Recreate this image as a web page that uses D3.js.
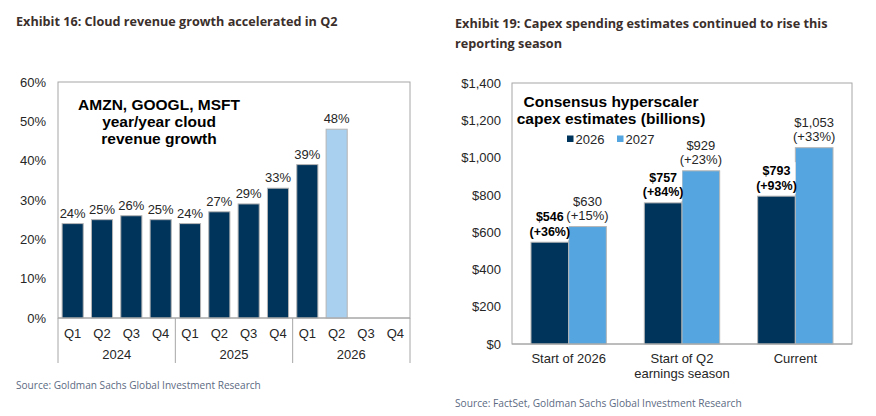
<!DOCTYPE html>
<html><head><meta charset="utf-8">
<script src="https://cdn.jsdelivr.net/npm/d3@7"></script>
<style>
body{margin:0;background:#fff;}
svg{display:block;}
</style></head>
<body>
<svg id="c" width="876" height="416"></svg>
<script>
// ---- Left chart data ----
const quarters = ["Q1","Q2","Q3","Q4","Q1","Q2","Q3","Q4","Q1","Q2","Q3","Q4"];
const years = ["2024","2025","2026"];
const cloudGrowth = [24,25,26,25,24,27,29,33,39,48,null,null];
const cloudHighlight = [false,false,false,false,false,false,false,false,false,true,false,false];
const leftTicks = [0,10,20,30,40,50,60];

// ---- Right chart data ----
const capexGroups = ["Start of 2026","Start of Q2|earnings season","Current"];
const capexSeries = ["2026","2027"];
const capex2026 = [546,757,793];
const capex2027 = [630,929,1053];
const growth2026 = ["+36%","+84%","+93%"];
const growth2027 = ["+15%","+23%","+33%"];
const rightTicks = [0,200,400,600,800,1000,1200,1400];

const DARK="#00345b", LIGHT="#a9d0ef", MID="#55a6e0", GRID="#a6a6a6";
const TITLE_C="#3b2f2c", SRC_C="#5c6a82", TXT="#262626";
const AX_FONT="'Liberation Sans', Arial, sans-serif";
const T_FONT="'Open Sans', 'Noto Sans', sans-serif";

const svg=d3.select("#c");

// ============ LEFT ============
(function(){
  const L={x0:58,x1:410,y0:82,y1:318};
  svg.append("text").attr("x",16).attr("y",26).attr("font-family",T_FONT).attr("font-weight",700)
    .attr("font-size",12.65).attr("fill",TITLE_C).text("Exhibit 16: Cloud revenue growth accelerated in Q2");
  const x=d3.scaleBand().domain(d3.range(quarters.length)).range([L.x0,L.x1]).paddingInner(0.28).paddingOuter(0.14);
  const y=d3.scaleLinear().domain([0,60]).range([L.y1,L.y0]);
  const g=svg.append("g");
  g.append("rect").attr("x",L.x0).attr("y",L.y0).attr("width",L.x1-L.x0).attr("height",L.y1-L.y0)
    .attr("fill","none").attr("stroke",GRID).attr("stroke-width",1);
  const ya=g.append("g").attr("transform",`translate(${L.x0},0)`)
    .call(d3.axisLeft(y).tickValues(leftTicks).tickFormat(d=>d+"%").tickSize(0).tickPadding(12));
  ya.select(".domain").remove();
  ya.selectAll("text").attr("font-family",AX_FONT).attr("font-size",13).attr("fill",TXT);
  const data=cloudGrowth.map((v,i)=>({i,v,h:cloudHighlight[i]})).filter(d=>d.v!=null);
  g.selectAll("rect.bar").data(data).join("rect").attr("class","bar")
    .attr("x",d=>x(d.i)).attr("width",x.bandwidth())
    .attr("y",d=>y(d.v)).attr("height",d=>y(0)-y(d.v))
    .attr("fill",d=>d.h?LIGHT:DARK).attr("stroke","#b5b5b5").attr("stroke-width",1);
  g.selectAll("text.lbl").data(data).join("text").attr("class","lbl")
    .attr("x",d=>x(d.i)+x.bandwidth()/2).attr("y",d=>y(d.v)-6)
    .attr("text-anchor","middle").attr("font-family",AX_FONT).attr("font-size",13).attr("fill",TXT)
    .text(d=>d.v+"%");
  g.append("line").attr("x1",L.x0).attr("x2",L.x1).attr("y1",L.y1).attr("y2",L.y1).attr("stroke",GRID);
  const step=x.step();
  g.selectAll("text.q").data(quarters).join("text").attr("class","q")
    .attr("x",(d,i)=>L.x0+step*(i+0.5)).attr("y",L.y1+20).attr("text-anchor","middle")
    .attr("font-family",AX_FONT).attr("font-size",13).attr("fill",TXT).text(d=>d);
  const yw=(L.x1-L.x0)/years.length;
  g.selectAll("text.yr").data(years).join("text").attr("class","yr")
    .attr("x",(d,i)=>L.x0+yw*(i+0.5)).attr("y",L.y1+41).attr("text-anchor","middle")
    .attr("font-family",AX_FONT).attr("font-size",13).attr("fill",TXT).text(d=>d);
  g.selectAll("line.div").data(d3.range(years.length+1)).join("line").attr("class","div")
    .attr("x1",i=>L.x0+yw*i).attr("x2",i=>L.x0+yw*i).attr("y1",L.y1).attr("y2",L.y1+45)
    .attr("stroke",GRID);
  const ann=["AMZN, GOOGL, MSFT","year/year cloud","revenue growth"];
  g.selectAll("text.ann").data(ann).join("text").attr("class","ann")
    .attr("x",159).attr("y",(d,i)=>110+i*17).attr("text-anchor","middle")
    .attr("font-family",AX_FONT).attr("font-weight",700).attr("font-size",15.5).attr("fill","#000").text(d=>d);
  svg.append("text").attr("x",16).attr("y",389).attr("font-family",T_FONT).attr("font-size",10.1)
    .attr("fill",SRC_C).text("Source: Goldman Sachs Global Investment Research");
})();

// ============ RIGHT ============
(function(){
  const R={x0:512,x1:852,y0:83,y1:344};
  svg.append("text").attr("x",455).attr("y",28).attr("font-family",T_FONT).attr("font-weight",700)
    .attr("font-size",12.7).attr("fill",TITLE_C).text("Exhibit 19: Capex spending estimates continued to rise this");
  svg.append("text").attr("x",455).attr("y",48).attr("font-family",T_FONT).attr("font-weight",700)
    .attr("font-size",12.7).attr("fill",TITLE_C).text("reporting season");
  const x0=d3.scaleBand().domain(d3.range(capexGroups.length)).range([R.x0,R.x1]).paddingInner(0.335).paddingOuter(0.1675);
  const x1=d3.scaleBand().domain(capexSeries).range([0,x0.bandwidth()]);
  const y=d3.scaleLinear().domain([0,1400]).range([R.y1,R.y0]);
  const g=svg.append("g");
  g.append("rect").attr("x",R.x0).attr("y",R.y0).attr("width",R.x1-R.x0).attr("height",R.y1-R.y0)
    .attr("fill","none").attr("stroke",GRID);
  const ya=g.append("g").attr("transform",`translate(${R.x0},0)`)
    .call(d3.axisLeft(y).tickValues(rightTicks).tickFormat(d=>"$"+d3.format(",")(d)).tickSize(0).tickPadding(11));
  ya.select(".domain").remove();
  ya.selectAll("text").attr("font-family",AX_FONT).attr("font-size",13).attr("fill",TXT);
  const rows=[];
  capexGroups.forEach((c,i)=>{
    rows.push({i,s:"2026",v:capex2026[i],p:growth2026[i]});
    rows.push({i,s:"2027",v:capex2027[i],p:growth2027[i]});
  });
  g.selectAll("rect.bar").data(rows).join("rect").attr("class","bar")
    .attr("x",d=>x0(d.i)+x1(d.s)).attr("width",x1.bandwidth())
    .attr("y",d=>y(d.v)).attr("height",d=>y(0)-y(d.v))
    .attr("fill",d=>d.s==="2026"?DARK:MID).attr("stroke","#b5b5b5").attr("stroke-width",1);
  rows.forEach(d=>{
    const cx=x0(d.i)+x1(d.s)+x1.bandwidth()/2, top=y(d.v);
    const bold=d.s==="2026";
    const lg=g.append("g");
    const t1="$"+d3.format(",")(d.v), t2="("+d.p+")";
    if(bold){
      lg.append("rect").attr("x",cx-19).attr("y",top-34).attr("width",38).attr("height",32).attr("fill","#fff");
    }
    [t1,t2].forEach((t,k)=>{
      lg.append("text").attr("x",cx).attr("y",top-21+k*14.5).attr("text-anchor","middle")
        .attr("font-family",AX_FONT).attr("font-size",bold?12.5:13).attr("font-weight",bold?700:400)
        .attr("fill",bold?"#000":TXT).text(t);
    });
  });
  g.append("line").attr("x1",R.x0).attr("x2",R.x1).attr("y1",R.y1).attr("y2",R.y1).attr("stroke",GRID);
  capexGroups.forEach((c,i)=>{
    c.split("|").forEach((t,k)=>{
      g.append("text").attr("x",x0(i)+x0.bandwidth()/2).attr("y",R.y1+19+k*15).attr("text-anchor","middle")
        .attr("font-family",AX_FONT).attr("font-size",13).attr("fill",TXT).text(t);
    });
  });
  const ann=["Consensus hyperscaler","capex estimates (billions)"];
  g.selectAll("text.ann").data(ann).join("text").attr("class","ann")
    .attr("x",611).attr("y",(d,i)=>107+i*17).attr("text-anchor","middle")
    .attr("font-family",AX_FONT).attr("font-weight",700).attr("font-size",15.5).attr("fill","#000").text(d=>d);
  const lx=[567,617];
  capexSeries.forEach((s,i)=>{
    g.append("rect").attr("x",lx[i]).attr("y",135.5).attr("width",6.5).attr("height",6.5).attr("fill",i?MID:DARK);
    g.append("text").attr("x",lx[i]+8.5).attr("y",143.5).attr("font-family",AX_FONT).attr("font-size",13)
      .attr("fill",TXT).text(s);
  });
  svg.append("text").attr("x",455).attr("y",407).attr("font-family",T_FONT).attr("font-size",10.2)
    .attr("fill",SRC_C).text("Source: FactSet, Goldman Sachs Global Investment Research");
})();
</script>
</body></html>
